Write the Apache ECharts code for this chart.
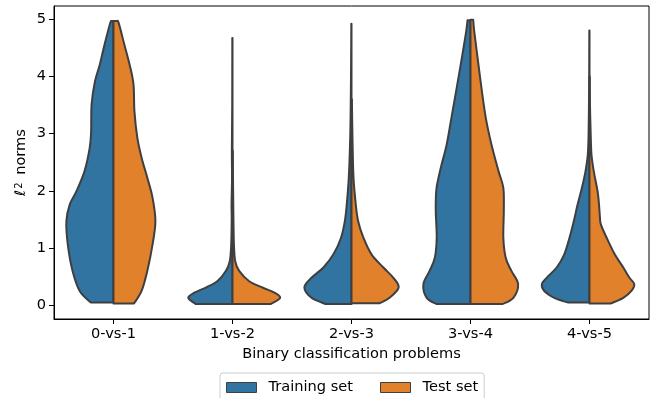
<!DOCTYPE html>
<html><head><meta charset="utf-8">
<script src="https://cdn.jsdelivr.net/npm/echarts@6/dist/echarts.min.js"></script>
<style>html,body{margin:0;padding:0;background:#fff}#c{width:657px;height:398px}</style>
</head><body><div id="c"></div>
<script>
// Categories and tick labels
const categories = ['0-vs-1', '1-vs-2', '2-vs-3', '3-vs-4', '4-vs-5'];
const yTicks = [0, 1, 2, 3, 4, 5];
const seriesNames = ['Training set', 'Test set'];

// Violin profiles: [l2 norm, relative density]
const train_0vs1 = [[0.05,0.48],[0.25,0.71],[0.60,0.86],[1.06,0.96],[1.47,0.99],[1.76,0.92],[1.99,0.78],[2.34,0.61],[2.75,0.50],[3.04,0.47],[3.51,0.46],[3.91,0.39],[4.20,0.29],[4.55,0.19],[4.93,0.07],[4.97,0.04]];
const test_0vs1  = [[0.03,0.43],[0.25,0.59],[0.60,0.71],[1.06,0.82],[1.47,0.88],[1.88,0.82],[2.23,0.71],[2.58,0.59],[2.93,0.50],[3.39,0.44],[3.86,0.42],[4.20,0.34],[4.55,0.23],[4.93,0.11],[4.97,0.07]];
const train_1vs2 = [[0.02,0.77],[0.13,0.93],[0.22,0.80],[0.31,0.56],[0.42,0.32],[0.60,0.14],[0.77,0.057],[1.06,0.027],[1.50,0.017],[1.76,0.02],[2.20,0.01],[2.70,0.013],[3.50,0.006],[4.67,0.004]];
const test_1vs2  = [[0.02,0.80],[0.13,1.00],[0.22,0.88],[0.31,0.63],[0.42,0.35],[0.60,0.14],[0.77,0.057],[1.06,0.03],[1.50,0.02],[2.00,0.013],[2.70,0.006]];
const train_2vs3 = [[0.02,0.54],[0.13,0.84],[0.31,0.99],[0.48,0.84],[0.66,0.59],[0.89,0.38],[1.18,0.22],[1.47,0.14],[1.76,0.10],[2.23,0.057],[2.93,0.027],[3.60,0.015],[4.30,0.008],[4.92,0.004]];
const test_2vs3  = [[0.035,0.59],[0.13,0.80],[0.31,0.99],[0.48,0.88],[0.66,0.67],[0.89,0.42],[1.18,0.25],[1.47,0.14],[1.76,0.09],[2.23,0.042],[2.90,0.021],[3.60,0.008]];
const train_3vs4 = [[0.02,0.71],[0.13,0.92],[0.37,0.99],[0.60,0.86],[0.83,0.75],[1.18,0.71],[1.65,0.73],[2.00,0.72],[2.20,0.68],[2.45,0.61],[2.81,0.50],[3.28,0.40],[3.80,0.29],[4.38,0.17],[4.79,0.09],[4.98,0.063]];
const test_3vs4  = [[0.02,0.67],[0.13,0.90],[0.37,1.00],[0.60,0.86],[0.83,0.74],[1.18,0.69],[1.65,0.70],[2.05,0.69],[2.34,0.59],[2.81,0.44],[3.28,0.32],[3.80,0.23],[4.38,0.14],[4.79,0.078],[4.99,0.057]];
const train_4vs5 = [[0.05,0.46],[0.13,0.74],[0.25,0.95],[0.37,1.00],[0.48,0.90],[0.66,0.69],[0.89,0.53],[1.18,0.42],[1.47,0.33],[1.76,0.25],[2.05,0.16],[2.34,0.084],[2.63,0.036],[3.00,0.019],[3.60,0.01],[4.20,0.006],[4.80,0.004]];
const test_4vs5  = [[0.03,0.44],[0.13,0.71],[0.25,0.88],[0.37,0.94],[0.48,0.84],[0.66,0.71],[0.89,0.53],[1.18,0.36],[1.41,0.24],[1.53,0.22],[1.76,0.20],[1.99,0.17],[2.34,0.09],[2.63,0.042],[2.93,0.027],[3.50,0.01],[4.00,0.006]];

const trainProfiles = [train_0vs1, train_1vs2, train_2vs3, train_3vs4, train_4vs5];
const testProfiles  = [test_0vs1, test_1vs2, test_2vs3, test_3vs4, test_4vs5];

const COLORS = ['#3274a1', '#e1812c'];
const EDGE = '#3f3f3f';
const FONT = 'DejaVu Sans';
const FS = 14.6;

function makeRender(profiles, side, color) {
  return function (params, api) {
    const i = api.value(0);
    const prof = profiles[i];
    const cx = api.coord([i, 0])[0];
    const band = api.size([1, 0])[0];
    const scale = 0.4 * band;
    const pts = prof.map(p => [cx + side * p[1] * scale, api.coord([i, p[0]])[1]]);
    const n = pts.length;
    let d = 'M' + cx + ',' + pts[0][1] + ' L' + pts[0][0] + ',' + pts[0][1];
    for (let k = 0; k < n - 1; k++) {
      const p0 = pts[Math.max(k - 1, 0)], p1 = pts[k], p2 = pts[k + 1], p3 = pts[Math.min(k + 2, n - 1)];
      const c1 = [p1[0] + (p2[0] - p0[0]) / 6, p1[1] + (p2[1] - p0[1]) / 6];
      const c2 = [p2[0] - (p3[0] - p1[0]) / 6, p2[1] - (p3[1] - p1[1]) / 6];
      d += ' C' + c1[0] + ',' + c1[1] + ' ' + c2[0] + ',' + c2[1] + ' ' + p2[0] + ',' + p2[1];
    }
    d += ' L' + cx + ',' + pts[n - 1][1] + ' Z';
    return {
      type: 'path',
      shape: { pathData: d },
      style: { fill: color, stroke: EDGE, lineWidth: 2, lineJoin: 'round' }
    };
  };
}

const chart = echarts.init(document.getElementById('c'), null, { renderer: 'canvas' });
const catData = categories.map((c, i) => [i, 0]);

chart.setOption({
  animation: false,
  backgroundColor: '#fff',
  grid: { left: 54, right: 8, top: 6, bottom: 79, show: true, borderColor: '#000', borderWidth: 1, backgroundColor: 'transparent' },
  legend: {
    left: 220, top: 373,
    padding: [7, 6, 9, 6],
    borderColor: '#cccccc', borderWidth: 1, borderRadius: 3,
    itemWidth: 30, itemHeight: 10, itemGap: 27,
    icon: 'rect',
    textStyle: { fontFamily: FONT, fontSize: FS, color: '#000', padding: [0, 0, 0, 7] },
    data: seriesNames.map((n, k) => ({ name: n, itemStyle: { color: COLORS[k], borderColor: EDGE, borderWidth: 1 } }))
  },
  xAxis: {
    type: 'category',
    data: categories,
    boundaryGap: true,
    name: 'Binary classification problems',
    nameLocation: 'middle',
    nameGap: 28,
    nameMoveOverlap: false,
    nameTextStyle: { fontFamily: FONT, fontSize: FS, color: '#000' },
    axisLine: { show: true, onZero: false, lineStyle: { color: '#000', width: 1 } },
    axisTick: { show: true, alignWithLabel: true, length: 5, lineStyle: { color: '#000' } },
    axisLabel: { fontFamily: FONT, fontSize: FS, color: '#000', margin: 8 },
    splitLine: { show: false }
  },
  yAxis: {
    type: 'value',
    min: -0.24, max: 5.23,
    name: '{l|ℓ}{s|2} norms',
    nameLocation: 'middle',
    nameGap: 25,
    nameMoveOverlap: false,
    nameTextStyle: { fontFamily: FONT, fontSize: FS, color: '#000', rich: {
      l: { fontFamily: FONT, fontStyle: 'italic', fontSize: FS, color: '#000' },
      s: { fontFamily: FONT, fontSize: 10, color: '#000', verticalAlign: 'top', padding: [0, 3, 0, 1] }
    } },
    axisLine: { show: true, onZero: false, lineStyle: { color: '#000', width: 1 } },
    axisTick: { show: true, length: 5, customValues: yTicks, lineStyle: { color: '#000' } },
    axisLabel: { fontFamily: FONT, fontSize: FS, color: '#000', margin: 8, customValues: yTicks, formatter: v => String(v) },
    splitLine: { show: false }
  },
  series: [
    { name: seriesNames[0], type: 'custom', data: catData, encode: { x: 0, y: 1 }, itemStyle: { color: COLORS[0], borderColor: EDGE }, renderItem: makeRender(trainProfiles, -1, COLORS[0]) },
    { name: seriesNames[1], type: 'custom', data: catData, encode: { x: 0, y: 1 }, itemStyle: { color: COLORS[1], borderColor: EDGE }, renderItem: makeRender(testProfiles, 1, COLORS[1]) }
  ]
});
</script></body></html>
